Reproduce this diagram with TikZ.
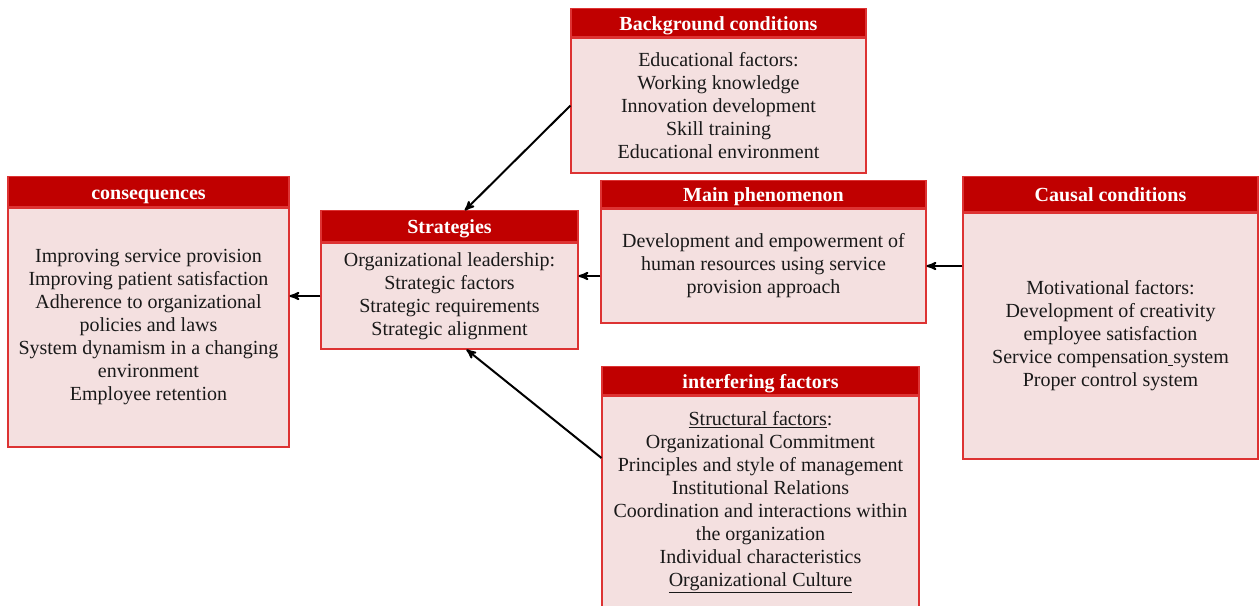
\documentclass[tikz,border=0pt]{standalone}
\usepackage{fontspec}
\setmainfont{Liberation Serif}
\usetikzlibrary{arrows,positioning,calc}
\definecolor{headred}{HTML}{C00000}
\definecolor{bodypink}{HTML}{F4E0E0}
\definecolor{edgered}{HTML}{DD3333}

\begin{document}
\begin{tikzpicture}
  [x=0.75pt,y=-0.75pt,>=stealth',
  every node/.style={font=\fontsize{15}{17.25}\selectfont},
  body/.style={draw=edgered,line width=0.8pt,fill=bodypink,align=center,inner sep=0pt,text=black!90},
  head/.style={draw=edgered,line width=0.8pt,fill=headred,text=white,inner sep=0pt,
    text height=12.5pt,text depth=1.5pt,font=\fontsize{15}{17.25}\selectfont\bfseries},
  link/.style={->,line width=1.5pt}]
  \useasboundingbox (0,0) rectangle (1259,606);

  % boxes
  \node [body,minimum width=221.25pt,minimum height=101.25pt] (bgb) at (718.5,105.5)
  {Educational factors:\\Working knowledge\\Innovation development\\Skill training\\Educational environment};
  \node [head,minimum width=221.25pt,minimum height=21pt] (bgh) [above=0pt of bgb] {Background conditions};

  \node [body,minimum width=210.75pt,minimum height=179.25pt] (cob) at (148.5,327.5)
  {Improving service provision\\Improving patient satisfaction\\Adherence to organizational\\policies and laws\\
    System dynamism in a changing\\environment\\Employee retention};
  \node [head,minimum width=210.75pt,minimum height=22.5pt] (coh) [above=0pt of cob] {consequences};

  \node [body,minimum width=192.75pt,minimum height=79.5pt] (stb) at (449.5,296)
  {Organizational leadership:\\Strategic factors\\Strategic requirements\\Strategic alignment};
  \node [head,minimum width=192.75pt,minimum height=23.25pt] (sth) [above=0pt of stb] {Strategies};

  \node [body,minimum width=243.75pt,minimum height=85.5pt] (mpb) at (763.5,266)
  {Development and empowerment of\\human resources using service\\provision approach};
  \node [head,minimum width=243.75pt,minimum height=20.25pt] (mph) [above=0pt of mpb] {Main phenomenon};

  \node [body,minimum width=221.25pt,minimum height=184.5pt] (cab) at (1110.5,336)
  {Motivational factors:\\Development of creativity\\employee satisfaction\\Service compensation\underline{\ }system\\Proper control system};
  \node [head,minimum width=221.25pt,minimum height=26.25pt] (cah) [above=0pt of cab] {Causal conditions};

  \node [body,minimum width=237.75pt,minimum height=159pt] (inb) at (760.5,502)
  {\underline{Structural factors}:\\Organizational Commitment\\Principles and style of management\\Institutional Relations\\
    Coordination and interactions within\\the organization\\Individual characteristics\\\underline{Organizational Culture}};
  \node [head,minimum width=237.75pt,minimum height=21pt] (inh) [above=0pt of inb] {interfering factors};

  % links
  \draw [link] (bgb.west) -- ($(sth.north)+(11.5pt,0)$);
  \coordinate (mpa) at ($(mpb.west)+(0,-7.5pt)$);
  \draw [link] (mpa) -- (mpa -| stb.east);
  \draw [link] (cab.west |- mpb.east) -- (mpb.east);
  \draw [link] (stb.west) -- (stb.west -| cob.east);
  \draw [link] ($(inb.west)+(0,33pt)$) -- ($(stb.south)+(12.75pt,0)$);
\end{tikzpicture}
\end{document}
